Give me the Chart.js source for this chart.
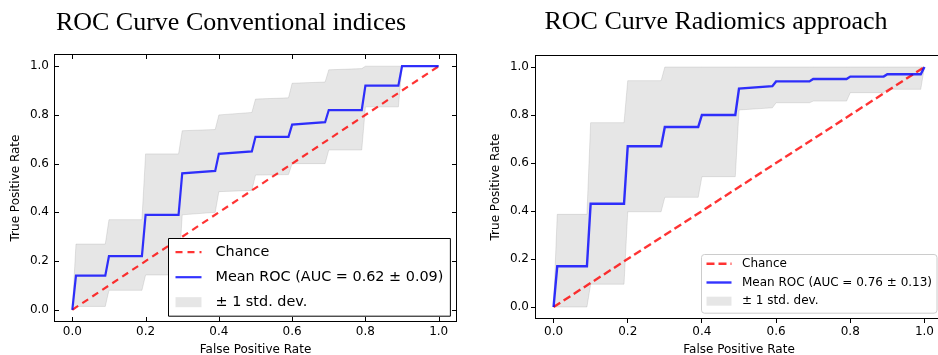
<!DOCTYPE html>
<html>
<head>
<meta charset="utf-8">
<script src="https://cdn.jsdelivr.net/npm/chart.js"></script>
<style>
  html, body { margin: 0; padding: 0; background: #fff; overflow: hidden; }
  body { width: 938px; height: 355px; position: relative; }
  canvas { position: absolute; top: 0; }
  #cConv { left: 0; }
  #cRad { left: 480px; }
</style>
</head>
<body>
<canvas id="cConv" width="462" height="355"></canvas>
<canvas id="cRad" width="470" height="355"></canvas>
<script>
// false positive rate grid (shared by both panels)
var fpr = [0, 0.01, 0.09, 0.10, 0.19, 0.20, 0.29, 0.30, 0.39, 0.40, 0.49, 0.50,
           0.59, 0.60, 0.69, 0.70, 0.79, 0.80, 0.89, 0.90, 0.99, 1.0];

// conventional indices
var convMean  = [0, 0.14, 0.14, 0.22, 0.22, 0.39, 0.39, 0.56, 0.57, 0.64, 0.65, 0.71,
                 0.71, 0.76, 0.77, 0.82, 0.82, 0.92, 0.92, 1.0, 1.0, 1.0];
var convUpper = [0, 0.27, 0.27, 0.37, 0.37, 0.64, 0.64, 0.735, 0.74, 0.80, 0.81, 0.865,
                 0.87, 0.93, 0.935, 0.985, 0.99, 1.0, 1.0, 1.0, 1.0, 1.0];
var convLower = [0, 0.014, 0.014, 0.08, 0.08, 0.143, 0.143, 0.39, 0.40, 0.485, 0.49, 0.553,
                 0.555, 0.60, 0.60, 0.656, 0.656, 0.833, 0.833, 1.0, 1.0, 1.0];

// radiomics approach
var radMean  = [0, 0.17, 0.17, 0.43, 0.43, 0.67, 0.67, 0.75, 0.75, 0.80, 0.80, 0.91,
                0.92, 0.94, 0.94, 0.95, 0.95, 0.96, 0.96, 0.97, 0.97, 1.0];
var radUpper = [0, 0.386, 0.386, 0.768, 0.768, 0.943, 0.943, 1.0, 1.0, 1.0, 1.0, 1.0,
                1.0, 1.0, 1.0, 1.0, 1.0, 1.0, 1.0, 1.0, 1.0, 1.0];
var radLower = [0, 0, 0, 0.095, 0.095, 0.397, 0.397, 0.457, 0.457, 0.543, 0.543, 0.821,
                0.83, 0.851, 0.851, 0.858, 0.858, 0.893, 0.893, 0.907, 0.907, 1.0];

var chanceX = [0, 1];
var chanceY = [0, 1];

var axisTicks = [0, 0.2, 0.4, 0.6, 0.8, 1.0];

var convTitle = 'ROC Curve Conventional indices';
var radTitle = 'ROC Curve Radiomics approach';
var convLabels = ['Chance', 'Mean ROC (AUC = 0.62 \u00b1 0.09)', '\u00b1 1 std. dev.'];
var radLabels = ['Chance', 'Mean ROC (AUC = 0.76 \u00b1 0.13)', '\u00b1 1 std. dev.'];

Chart.defaults.font.family = "'DejaVu Sans', sans-serif";
Chart.defaults.color = '#000';

function pts(xs, ys) {
    return xs.map(function (x, i) { return { x: x, y: ys[i] }; });
}

// frame round the plot area, ticks drawn inside when asked, legend box in the lower right
var frameLegend = {
    id: 'frameLegend',
    afterDraw: function (chart, args, o) {
        var ctx = chart.ctx;
        var a = chart.chartArea;
        ctx.save();
        ctx.strokeStyle = '#000';
        ctx.lineWidth = 1;
        ctx.setLineDash([]);
        ctx.strokeRect(Math.round(a.left) + 0.5, Math.round(a.top) + 0.5,
                       Math.round(a.right - a.left) - 1, Math.round(a.bottom - a.top) - 1);
        if (o.insideTicks) {
            ctx.beginPath();
            axisTicks.forEach(function (v) {
                var px = Math.round(chart.scales.x.getPixelForValue(v)) + 0.5;
                var py = Math.round(chart.scales.y.getPixelForValue(v)) + 0.5;
                ctx.moveTo(px, a.bottom); ctx.lineTo(px, a.bottom - 5);
                ctx.moveTo(px, a.top); ctx.lineTo(px, a.top + 5);
                ctx.moveTo(a.left, py); ctx.lineTo(a.left + 5, py);
                ctx.moveTo(a.right, py); ctx.lineTo(a.right - 5, py);
            });
            ctx.stroke();
        }

        // legend
        var items = chart.data.datasets.filter(function (d) { return d.label; });
        ctx.font = o.fontSize + "px 'DejaVu Sans'";
        var tw = 0;
        items.forEach(function (d) { tw = Math.max(tw, ctx.measureText(d.label).width); });
        var w = o.padLeft + o.handle + o.gap + tw + o.padRight;
        var h = o.padTop + o.rowH * (items.length - 1) + o.padBottom;
        var x0 = Math.round(a.right - o.right - w) + 0.5;
        var y0 = Math.round(a.bottom - o.bottom - h) + 0.5;
        ctx.beginPath();
        if (ctx.roundRect) ctx.roundRect(x0, y0, w, h, o.radius); else ctx.rect(x0, y0, w, h);
        ctx.fillStyle = o.fill;
        ctx.fill();
        ctx.strokeStyle = o.border;
        ctx.lineWidth = 1;
        ctx.stroke();
        items.forEach(function (d, i) {
            var cy = y0 + o.padTop + i * o.rowH;
            var hx = x0 + o.padLeft;
            if (d.fill) {
                ctx.fillStyle = d.backgroundColor;
                ctx.fillRect(hx, cy - o.patchH / 2, o.handle, o.patchH);
            } else {
                ctx.strokeStyle = d.borderColor;
                ctx.lineWidth = d.borderWidth;
                ctx.setLineDash(d.borderDash || []);
                ctx.beginPath();
                ctx.moveTo(hx, cy);
                ctx.lineTo(hx + o.handle, cy);
                ctx.stroke();
                ctx.setLineDash([]);
            }
            ctx.fillStyle = '#000';
            ctx.textBaseline = 'middle';
            ctx.textAlign = 'left';
            ctx.fillText(d.label, hx + o.handle + o.gap, cy);
        });
        ctx.restore();
    }
};

function makeChart(id, cfg) {
    var ctx = document.getElementById(id).getContext('2d');
    var band = 'rgba(128,128,128,0.2)';
    return new Chart(ctx, {
        type: 'line',
        data: {
            datasets: [{
                label: cfg.labels[0],
                data: pts(chanceX, chanceY),
                borderColor: 'rgba(255,0,0,0.8)',
                borderWidth: cfg.lw,
                borderDash: cfg.dash,
                pointRadius: 0,
                fill: false,
                order: 1
            }, {
                label: cfg.labels[1],
                data: pts(fpr, cfg.mean),
                borderColor: 'rgba(0,0,255,0.8)',
                borderWidth: cfg.lw,
                pointRadius: 0,
                fill: false,
                order: 0
            }, {
                label: cfg.labels[2],
                data: pts(fpr, cfg.upper),
                borderColor: band,
                borderWidth: 1,
                backgroundColor: band,
                pointRadius: 0,
                fill: '+1',
                order: 2
            }, {
                label: '',
                data: pts(fpr, cfg.lower),
                borderColor: band,
                borderWidth: 1,
                pointRadius: 0,
                fill: false,
                order: 2
            }]
        },
        options: {
            responsive: false,
            animation: false,
            devicePixelRatio: 1,
            layout: { padding: cfg.padding },
            plugins: {
                legend: { display: false },
                tooltip: { enabled: false },
                title: {
                    display: true,
                    text: cfg.title,
                    color: '#000',
                    font: { family: "'Liberation Serif', 'Times New Roman', serif", size: 26, weight: 'normal', lineHeight: 1.2 },
                    padding: cfg.titlePad
                },
                frameLegend: cfg.legend
            },
            scales: {
                x: {
                    type: 'linear',
                    min: -0.05,
                    max: 1.05,
                    afterBuildTicks: function (s) { s.ticks = axisTicks.map(function (v) { return { value: v }; }); },
                    afterFit: function (s) { s.height = cfg.xHeight; },
                    ticks: {
                        padding: cfg.xPad,
                        maxRotation: 0,
                        font: { size: cfg.tickSize },
                        callback: function (v) { return v.toFixed(1); }
                    },
                    grid: cfg.grid,
                    border: { display: false },
                    title: { display: true, text: 'False Positive Rate', font: { size: 12, lineHeight: 1.2 }, padding: { top: 0, bottom: -2 } }
                },
                y: {
                    type: 'linear',
                    min: -0.05,
                    max: 1.05,
                    afterBuildTicks: function (s) { s.ticks = axisTicks.map(function (v) { return { value: v }; }); },
                    afterFit: function (s) { s.width = cfg.yWidth; },
                    ticks: {
                        padding: cfg.yPad,
                        font: { size: cfg.tickSize },
                        callback: function (v) { return v.toFixed(1); }
                    },
                    grid: cfg.grid,
                    border: { display: false },
                    title: { display: true, text: 'True Positive Rate', font: { size: 12, lineHeight: 1.2 }, padding: { top: cfg.yTitlePad, bottom: 0 } }
                }
            }
        },
        plugins: [frameLegend]
    });
}

// classic matplotlib look: ticks inside on all four sides, square black legend box
makeChart('cConv', {
    title: convTitle,
    labels: convLabels,
    mean: convMean, upper: convUpper, lower: convLower,
    lw: 2.2,
    dash: [7, 5],
    padding: { left: 5, right: 5, top: 0, bottom: 0 },
    titlePad: { top: 8, bottom: 14.8 },
    xHeight: 33,
    yWidth: 49,
    xPad: 3,
    yPad: 5,
    yTitlePad: 4,
    tickSize: 12,
    grid: { display: false, drawTicks: false },
    legend: {
        insideTicks: true, fontSize: 14.4,
        padLeft: 7, handle: 26, gap: 14, padRight: 7,
        padTop: 13.7, rowH: 25, padBottom: 14, patchH: 10,
        right: 7, bottom: 6, radius: 0, fill: '#fff', border: '#000'
    }
});

// matplotlib 2 look: outward ticks on left and bottom, rounded grey legend box
makeChart('cRad', {
    title: radTitle,
    labels: radLabels,
    mean: radMean, upper: radUpper, lower: radLower,
    lw: 2.4,
    dash: [8, 4],
    padding: { left: 9, right: 7, top: 0, bottom: 0 },
    titlePad: { top: 7, bottom: 16.8 },
    xHeight: 36,
    yWidth: 46,
    xPad: 2,
    yPad: 2,
    yTitlePad: 0,
    tickSize: 12,
    grid: { display: true, drawOnChartArea: false, drawTicks: true, tickLength: 4, color: '#000', lineWidth: 1 },
    legend: {
        insideTicks: false, fontSize: 12,
        padLeft: 5, handle: 25, gap: 10.5, padRight: 5,
        padTop: 9.3, rowH: 18.7, padBottom: 12, patchH: 9,
        right: 6.3, bottom: 6.3, radius: 3, fill: 'rgba(255,255,255,0.8)', border: '#cccccc'
    }
});
</script>
</body>
</html>
